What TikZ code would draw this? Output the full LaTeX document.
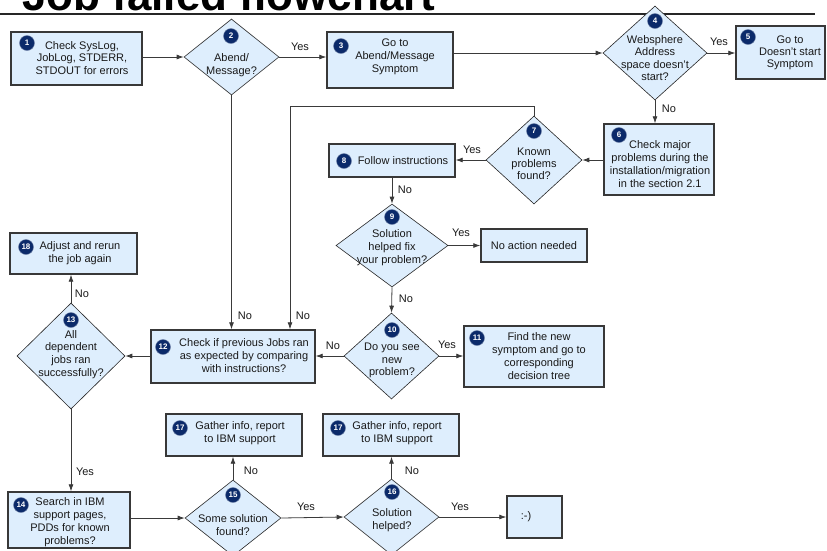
\documentclass[tikz,border=0pt]{standalone}
\usepackage{fontspec}
\setmainfont{Liberation Sans}
\usetikzlibrary{shapes.geometric,arrows.meta}

\definecolor{boxfill}{HTML}{DEEEFD}
\definecolor{boxedge}{HTML}{383838}
\definecolor{boxinner}{HTML}{A4A4A4}
\definecolor{badgeblue}{HTML}{0B2A6A}
\definecolor{wire}{HTML}{3A3A3A}

\tikzset{
  stepbox/.style={rectangle, fill=boxfill, draw=boxedge, line width=1.4pt, inner sep=0pt,
    path picture={\draw[boxinner, line width=2.8pt]
      (path picture bounding box.south west) rectangle (path picture bounding box.north east);}},
  decision/.style={diamond, fill=boxfill, draw=black!85, line width=0.6pt, inner sep=0pt},
  txt/.style={align=center, font=\fontsize{11}{12.8}\selectfont, inner sep=0pt, text=black!90},
  badge/.style={circle, fill=badgeblue, draw=badgeblue!60!white, line width=0.4pt,
    minimum size=15pt, inner sep=0pt, text=white, font=\fontsize{8}{8}\selectfont\bfseries},
  arr/.style={draw=wire, line width=0.8pt, -{Latex[length=7pt,width=5pt]}},
  lbl/.style={font=\fontsize{11}{12}\selectfont, inner sep=0pt, text=black!90},
}

\begin{document}
\begin{tikzpicture}[x=1pt, y=-1pt]
\useasboundingbox (0,0) rectangle (827,550);

% heading and rule
\node[anchor=base west, inner sep=0pt, font=\fontsize{44}{44}\selectfont\bfseries] (title) at (22,10) {Job failed flowchart};
\coordinate (rulel) at (0,14);
\coordinate (ruler) at (815,14);
\draw[line width=1.2pt, black!85] (rulel) -- (ruler);

% process boxes
\node[stepbox, minimum width=131pt, minimum height=53pt] (b1)  at (76.5,58.5) {};
\node[stepbox, minimum width=126pt, minimum height=56pt] (b3)  at (390,60) {};
\node[stepbox, minimum width=89pt,  minimum height=53pt] (b5)  at (780.5,52.5) {};
\node[stepbox, minimum width=110pt, minimum height=71pt] (b6)  at (659,159.5) {};
\node[stepbox, minimum width=126pt, minimum height=33pt] (b8)  at (392,160.5) {};
\node[stepbox, minimum width=106pt, minimum height=33pt] (bna) at (534,245.5) {};
\node[stepbox, minimum width=140pt, minimum height=61pt] (b11) at (534,356.5) {};
\node[stepbox, minimum width=164pt, minimum height=53pt] (b12) at (233,356.5) {};
\node[stepbox, minimum width=127pt, minimum height=41pt] (b18) at (73.5,253.5) {};
\node[stepbox, minimum width=122pt, minimum height=56pt] (b14) at (69,520) {};
\node[stepbox, minimum width=136pt, minimum height=42pt] (b17a) at (234,435) {};
\node[stepbox, minimum width=136pt, minimum height=42pt] (b17b) at (391,435) {};
\node[stepbox, minimum width=55pt,  minimum height=42pt] (bs)  at (534.5,517) {};

% decisions
\node[decision, minimum width=95pt,  minimum height=76pt]  (d2)  at (231.5,57) {};
\node[decision, minimum width=104pt, minimum height=94pt]  (d4)  at (655,53) {};
\node[decision, minimum width=96pt,  minimum height=88pt]  (d7)  at (534,160) {};
\node[decision, minimum width=112pt, minimum height=83pt]  (d9)  at (392,245.5) {};
\node[decision, minimum width=95pt,  minimum height=86pt]  (d10) at (391.5,356) {};
\node[decision, minimum width=108pt, minimum height=106pt] (d13) at (71,356) {};
\node[decision, minimum width=96pt,  minimum height=76pt]  (d15) at (233,518) {};
\node[decision, minimum width=95pt,  minimum height=76pt]  (d16) at (391.5,517) {};

% texts
\node[txt] (t1)  at (82,58)    {Check SysLog,\\JobLog, STDERR,\\STDOUT for errors};
\node[txt] (t2)  at (231.5,65) {Abend/\\Message?};
\node[txt] (t3)  at (395,57)   {Go to\\Abend/Message\\Symptom};
\node[txt, font=\fontsize{11}{12.2}\selectfont] (t4) at (655,58) {Websphere\\Address\\space doesn't\\start?};
\node[txt, font=\fontsize{11}{11.8}\selectfont] (t5) at (790,53) {Go to\\Doesn't start\\Symptom};
\node[txt] (t6)  at (660,164)  {Check major\\problems during the\\installation/migration\\in the section 2.1};
\node[txt, font=\fontsize{11}{12.2}\selectfont] (t7) at (534,164) {Known\\problems\\found?};
\node[txt] (t8)  at (403,161)  {Follow instructions};
\node[txt] (t9)  at (392,247.5) {Solution\\helped fix\\your problem?};
\node[txt] (tna) at (534,246)  {No action needed};
\node[txt] (t10) at (392,360.5) {Do you see\\new\\problem?};
\node[txt] (t11) at (539,356)  {Find the new\\symptom and go to\\corresponding\\decision tree};
\node[txt] (t12) at (244,355.5) {Check if previous Jobs ran\\as expected by comparing\\with instructions?};
\node[txt] (t13) at (71,354.5) {All\\dependent\\jobs ran\\successfully?};
\node[txt] (t14) at (70,522)   {Search in IBM\\support pages,\\PDDs for known\\problems?};
\node[txt] (t15) at (233,525)  {Some solution\\found?};
\node[txt] (t16) at (392,520.5) {Solution\\helped?};
\node[txt] (t17a) at (240,433.5) {Gather info, report\\to IBM support};
\node[txt] (t17b) at (397,433.5) {Gather info, report\\to IBM support};
\node[txt] (t18) at (80,253)   {Adjust and rerun\\the job again};
\node[txt] (ts)  at (526,517)  {:-)};

% step numbers
\node[badge] (n1)  at (27,43)   {1};
\node[badge] (n2)  at (231,36)  {2};
\node[badge] (n3)  at (341,46)  {3};
\node[badge] (n4)  at (655,21)  {4};
\node[badge] (n5)  at (748,37)  {5};
\node[badge] (n6)  at (619,135) {6};
\node[badge] (n7)  at (534,131) {7};
\node[badge] (n8)  at (344,161) {8};
\node[badge] (n9)  at (392,217) {9};
\node[badge] (n10) at (392,330) {10};
\node[badge] (n11) at (477,338) {11};
\node[badge] (n12) at (163,347) {12};
\node[badge] (n13) at (71,320)  {13};
\node[badge] (n14) at (21,505)  {14};
\node[badge] (n15) at (233,495) {15};
\node[badge] (n16) at (392,492) {16};
\node[badge] (n17a) at (180,428) {17};
\node[badge] (n17b) at (338,428) {17};
\node[badge] (n18) at (26,247)  {18};

% connectors
\coordinate (loopturn) at (290,106);
\draw[arr] (b1.east |- d2.west) -- (d2.west);
\draw[arr] (d2.east) -- (d2.east -| b3.west);
\draw[arr] (b3.east |- d4.west) -- (d4.west);
\draw[arr] (d4.east) -- (d4.east -| b5.west);
\draw[arr] (d4.south) -- (d4.south |- b6.north);
\draw[arr] (b6.west |- d7.east) -- (d7.east);
\draw[arr] (d7.west) -- (d7.west -| b8.east);
\draw[arr] (b8.south) -- (d9.north);
\draw[arr] (d9.east) -- (d9.east -| bna.west);
\draw[arr] (d9.south) -- (d10.north);
\draw[arr] (d10.west) -- (d10.west -| b12.east);
\draw[arr] (d10.east) -- (d10.east -| b11.west);
\draw[arr] (d2.south) -- (d2.south |- b12.north);
\draw[arr] (d7.north) |- (loopturn) -- (loopturn |- b12.north);
\draw[arr] (b12.west |- d13.east) -- (d13.east);
\draw[arr] (d13.north) -- (d13.north |- b18.south);
\draw[arr] (d13.south) -- (d13.south |- b14.north);
\draw[arr] (b14.east |- d15.west) -- (d15.west);
\draw[arr] (d15.north) -- (d15.north |- b17a.south);
\draw[arr] (d15.east) -- (d16.west);
\draw[arr] (d16.north) -- (d16.north |- b17b.south);
\draw[arr] (d16.east) -- (d16.east -| bs.west);

% connector labels
\node[lbl] (y23)  at (300,47)  {Yes};
\node[lbl] (y45)  at (719,42)  {Yes};
\node[lbl] (n46)  at (669,109) {No};
\node[lbl] (y78)  at (472,150) {Yes};
\node[lbl] (n89)  at (405,190) {No};
\node[lbl] (y9na) at (461,233) {Yes};
\node[lbl] (n910) at (406,299) {No};
\node[lbl] (n1012) at (333,346) {No};
\node[lbl] (y1011) at (447,345) {Yes};
\node[lbl] (n212) at (245,316) {No};
\node[lbl] (n712) at (303,316) {No};
\node[lbl] (n1318) at (82,294) {No};
\node[lbl] (y1314) at (85,472) {Yes};
\node[lbl] (n1517) at (251,471) {No};
\node[lbl] (y1516) at (306,507) {Yes};
\node[lbl] (n1617) at (412,471) {No};
\node[lbl] (y16s) at (460,507) {Yes};
\end{tikzpicture}
\end{document}
